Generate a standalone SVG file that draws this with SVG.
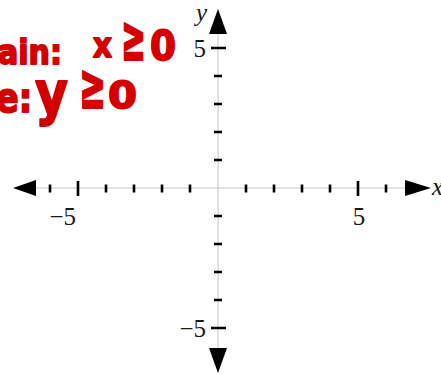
<svg xmlns="http://www.w3.org/2000/svg" width="441" height="374" viewBox="0 0 441 374">
<style>
.axis{stroke:#c4c4c4;stroke-width:1;fill:none}
.tk{stroke:#000;stroke-width:2.6;fill:none}
.arr{fill:#000}
.lbl{font-family:"Liberation Serif","Times New Roman",serif;font-size:25px;fill:#1a1a1a}
.it{font-style:italic}
.hw{font-family:"DejaVu Sans",sans-serif;font-weight:bold;fill:#d40000;stroke:#d40000;stroke-width:1.8;stroke-linejoin:round}
</style>
<rect width="441" height="374" fill="#fff"/>
<g id="axes">
<line class="axis" x1="30" y1="188" x2="410" y2="188"/>
<line class="axis" x1="218" y1="28" x2="218" y2="352"/>
<polygon class="arr" points="13,188 36,180 36,196"/>
<polygon class="arr" points="431,188 405,180 405,196"/>
<polygon class="arr" points="218,9 209,34 227,34"/>
<polygon class="arr" points="218,373 209,348 227,348"/>
</g>
<g id="x-ticks">
<path class="tk" d="M50,184.5V192.5M78,181V196M106,184.5V192.5M134,184.5V192.5M162,184.5V192.5M190,184.5V192.5M246,184.5V192.5M274,184.5V192.5M302,184.5V192.5M330,184.5V192.5M358,181V196M386,184.5V192.5"/>
</g>
<g id="y-ticks">
<path class="tk" d="M211,48H226M214,76H222M214,104H222M214,132H222M214,160H222M214,216H222M214,244H222M214,272H222M214,300H222M211,328H226"/>
</g>
<g id="labels">
<text class="lbl it" x="196" y="21">y</text>
<text class="lbl it" x="432" y="195">x</text>
<text class="lbl" x="206" y="57" text-anchor="end">5</text>
<text class="lbl" x="206" y="337" text-anchor="end">−5</text>
<text class="lbl" x="76" y="225" text-anchor="end">−5</text>
<text class="lbl" x="359" y="225" text-anchor="middle">5</text>
</g>
<g id="annotation">
<text class="hw" x="-2" y="64" font-size="34" textLength="64" lengthAdjust="spacingAndGlyphs">ain:</text>
<text class="hw" x="93" y="57" font-size="34" textLength="19" lengthAdjust="spacingAndGlyphs">x</text>
<text class="hw" x="121" y="60" font-size="64" textLength="25" lengthAdjust="spacingAndGlyphs">≥</text>
<text class="hw" x="150" y="60" font-size="40" textLength="26" lengthAdjust="spacingAndGlyphs">0</text>
<text class="hw" x="-4" y="112" font-size="40" textLength="36" lengthAdjust="spacingAndGlyphs">e:</text>
<text class="hw" x="35" y="114" font-size="58" textLength="33" lengthAdjust="spacingAndGlyphs">y</text>
<text class="hw" x="79" y="108" font-size="64" textLength="27" lengthAdjust="spacingAndGlyphs">≥</text>
<text class="hw" x="108" y="108" font-size="38" textLength="29" lengthAdjust="spacingAndGlyphs">0</text>
</g>
</svg>
